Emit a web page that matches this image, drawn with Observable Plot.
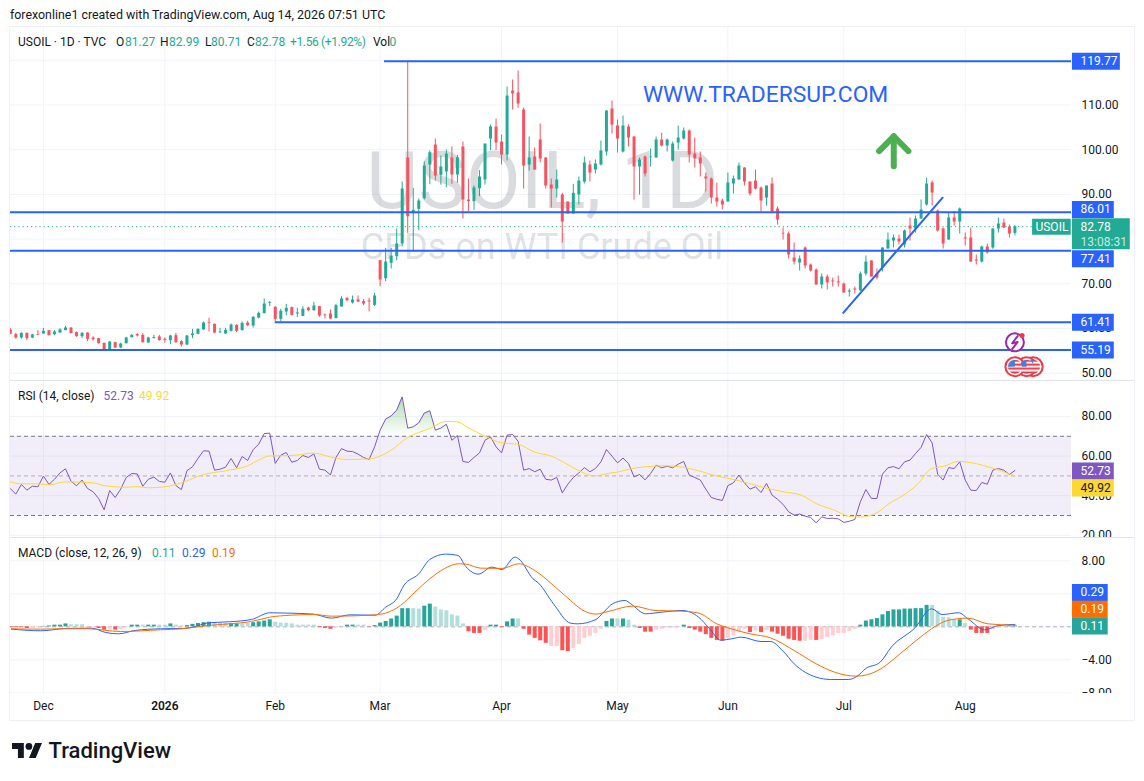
<!DOCTYPE html>
<html><head><meta charset="utf-8">
<script src="https://cdn.jsdelivr.net/npm/d3@7"></script>
<script src="https://cdn.jsdelivr.net/npm/@observablehq/plot@0.6"></script>
<style>
html,body{margin:0;padding:0;background:#fff;width:1144px;height:781px;overflow:hidden}
body{position:relative;font-family:Roboto,sans-serif;color:#131722}
.t{position:absolute;white-space:nowrap;font-size:12px;line-height:14px}
svg{position:absolute;left:0}
</style></head><body>
<script>
const opens=[59.67,58.62,57.88,58.92,57.88,58.62,58.77,59.52,58.62,58.99,
59.52,60.11,59.07,58.17,58.99,57.88,57.73,56.68,55.04,56.83,
55.64,56.61,57.95,58.62,58.47,56.76,57.73,58.10,57.58,57.28,
58.40,57.06,56.31,58.40,58.70,59.67,61.31,60.93,59.07,58.77,
59.37,60.71,59.52,61.23,60.56,62.35,63.32,65.63,64.74,62.05,
63.69,64.66,63.25,62.72,64.59,63.99,64.89,63.02,63.25,62.20,
64.81,66.75,65.71,66.38,66.00,66.15,65.18,75.17,71.14,74.58,
76.07,78.90,98.14,85.69,86.66,89.04,96.57,101.05,94.26,95.01,
98.14,94.34,100.60,88.74,88.37,91.28,93.22,102.39,105.07,101.72,
98.81,113.13,112.68,108.88,96.57,98.36,102.17,98.14,92.10,91.20,
89.86,88.30,85.61,89.86,92.77,96.57,95.45,96.57,99.48,109.10,
105.30,99.48,105.07,102.84,96.13,98.36,98.21,98.14,102.17,100.82,
97.47,101.50,102.39,104.18,99.03,98.14,93.89,93.44,89.19,88.52,
88.30,92.32,93.22,95.90,92.77,92.99,91.43,89.19,92.32,86.73,
81.29,81.14,75.77,74.65,78.01,74.20,73.08,69.73,71.52,70.62,
70.40,69.95,68.16,68.83,68.39,72.19,75.10,72.19,73.53,77.78,
79.57,80.02,78.68,82.93,82.26,84.49,87.62,92.55,86.28,82.26,
79.79,84.72,83.82,80.24,80.24,75.32,74.87,78.23,78.01,82.26,
83.60,82.70,81.27];
const closes=[58.70,57.88,58.92,57.73,58.55,58.47,59.37,58.40,59.22,59.67,
60.11,58.85,58.17,58.92,57.58,57.50,56.61,55.04,56.98,55.64,
56.53,57.88,58.47,58.32,56.83,57.88,57.95,57.28,57.35,58.32,
56.83,56.31,58.32,58.77,59.81,61.23,61.16,58.99,59.22,59.59,
60.78,59.37,61.16,60.64,62.50,63.39,65.48,65.78,62.05,63.84,
64.51,62.95,63.47,64.29,63.99,65.03,62.80,62.87,62.13,65.11,
66.60,66.23,66.38,65.93,65.48,65.93,67.27,70.85,74.87,76.22,
78.90,91.20,85.01,86.43,88.52,96.35,99.33,94.11,96.13,99.03,
94.34,98.21,88.74,88.37,91.43,93.89,101.27,105.07,101.50,98.81,
112.01,112.46,110.22,96.35,98.14,95.45,97.92,91.88,91.20,93.22,
83.82,85.61,90.24,92.99,97.02,94.78,96.80,99.71,108.65,105.52,
102.39,105.30,102.61,96.13,97.69,94.56,98.36,102.17,100.82,102.17,
101.27,102.61,104.18,98.81,97.92,96.80,93.44,89.19,88.30,87.62,
92.55,93.44,96.35,92.77,90.09,91.20,88.52,91.88,86.06,84.27,
81.14,76.44,74.87,75.54,73.98,72.86,69.73,71.52,70.18,70.40,
70.18,67.94,68.39,68.61,72.19,74.87,71.52,71.29,78.01,79.79,
80.24,79.35,81.81,82.26,84.49,86.51,92.32,90.31,81.81,78.90,
84.72,83.82,86.73,80.02,74.87,75.10,78.23,76.89,82.26,83.37,
82.48,81.14,82.78];
const highs=[60.04,58.92,59.00,59.00,58.70,59.52,60.04,59.55,59.52,59.96,
60.49,60.20,59.22,59.07,59.05,58.17,57.80,56.75,57.10,56.95,
56.70,58.03,58.60,58.85,58.85,58.03,58.47,58.47,57.88,58.47,
58.92,57.28,58.47,59.81,59.90,61.46,62.28,61.00,60.04,60.04,
61.01,60.86,61.46,61.60,62.65,63.69,66.60,66.08,64.89,64.29,
65.41,64.81,64.51,64.89,64.74,65.86,64.96,63.25,64.14,65.41,
67.12,66.90,67.27,67.27,66.53,66.75,67.87,75.20,77.93,77.93,
82.26,92.77,119.69,91.35,88.97,97.32,99.71,102.39,98.59,99.93,
100.60,98.74,101.72,93.44,91.88,95.31,101.27,105.52,106.86,103.28,
114.02,115.59,117.60,109.32,102.84,100.38,105.75,98.20,93.44,95.45,
90.24,88.30,92.25,93.89,98.36,97.47,97.69,101.94,108.70,110.89,
106.64,107.54,105.52,102.90,98.14,98.59,100.15,102.84,103.66,102.39,
101.72,105.30,104.85,104.40,102.61,99.48,94.78,93.66,92.55,88.97,
94.78,94.11,97.02,95.95,92.80,95.45,91.65,91.90,93.66,87.18,
82.48,81.58,79.12,76.22,78.23,74.43,73.31,72.19,71.97,71.29,
71.74,70.18,68.83,69.28,72.64,76.22,75.15,73.31,78.05,81.36,
80.91,80.91,82.03,84.72,85.16,88.74,93.66,92.99,86.51,82.48,
85.84,86.06,86.95,81.36,82.48,76.44,78.45,78.90,82.30,84.72,
84.49,83.15,82.99];
const lows=[58.60,57.58,57.58,57.28,57.73,58.40,58.70,58.35,58.40,58.92,
59.50,58.80,58.03,57.73,57.06,57.20,56.50,54.90,54.90,55.50,
55.50,56.50,57.90,58.10,56.75,56.70,57.70,57.20,56.68,56.39,
56.68,55.86,56.16,57.73,58.60,59.60,59.22,58.85,58.85,58.62,
59.22,59.07,59.45,60.41,60.11,62.20,63.30,64.89,61.53,61.46,
62.80,62.80,62.50,62.65,63.77,63.84,62.50,62.13,61.98,62.20,
64.80,65.93,65.48,65.78,65.11,63.69,64.89,69.36,70.47,73.31,
75.17,78.30,81.29,77.11,81.88,88.74,92.17,92.99,92.10,91.50,
92.25,92.47,84.49,86.13,86.43,89.49,92.10,99.78,99.78,96.57,
97.47,108.88,109.25,91.20,95.23,95.40,97.02,91.20,86.95,89.19,
79.12,85.60,85.60,87.62,92.32,92.77,94.56,96.35,98.59,103.51,
99.26,99.26,100.60,88.74,89.86,93.89,96.13,98.10,100.60,99.48,
97.24,99.93,102.17,97.02,95.90,93.89,90.53,87.85,87.18,86.51,
88.30,90.09,93.20,91.88,89.64,90.98,86.06,87.40,86.00,83.15,
79.79,75.54,74.20,72.86,73.31,72.64,69.70,68.83,68.61,69.28,
69.28,67.90,67.04,67.71,68.35,71.74,71.50,70.85,72.64,77.75,
78.01,78.68,78.01,79.57,81.36,84.45,87.40,87.40,81.58,77.78,
79.75,82.93,81.14,78.45,74.85,74.20,74.65,76.66,77.71,81.36,
82.40,80.24,80.71];
const rsi=[43.6,40.8,45.7,42.8,44.8,44.5,49.9,45.7,48.3,51.5,
53.6,47.3,45.0,47.9,43.6,42.0,38.6,32.9,42.6,39.1,
43.3,49.2,51.2,51.0,44.8,48.3,49.4,47.2,46.8,51.5,
45.1,43.1,52.6,54.6,58.8,62.7,62.5,52.9,53.4,54.4,
58.8,54.1,59.8,57.8,63.3,66.0,71.4,71.6,56.3,60.5,
61.8,56.9,57.8,60.3,59.3,61.1,53.4,52.9,50.5,59.3,
63.8,62.5,62.3,61.0,59.3,58.3,64.7,73.1,78.7,80.3,
83.2,89.9,74.1,74.8,76.8,81.7,82.9,73.1,74.1,76.1,
68.0,70.4,57.3,56.8,59.3,61.6,68.0,69.7,64.7,61.6,
70.6,70.9,67.5,52.9,53.7,52.1,53.4,48.3,47.9,49.2,
41.4,45.8,49.2,51.5,54.2,52.1,53.7,57.1,63.3,60.0,
56.6,59.0,56.3,49.5,50.7,48.0,51.2,55.4,54.1,54.9,
54.1,55.9,57.3,50.4,49.2,47.9,43.3,39.1,38.2,37.6,
45.1,46.5,50.4,46.5,43.3,44.5,41.6,46.2,40.3,38.2,
35.6,31.9,30.2,30.7,29.7,29.0,26.3,29.3,28.5,28.6,
28.3,26.5,27.1,28.0,36.9,43.1,38.6,38.6,50.9,54.1,
54.7,53.6,57.1,58.0,61.3,64.4,70.9,66.7,50.9,47.9,
54.2,53.7,57.1,47.9,42.8,42.6,46.7,45.8,52.9,53.7,
52.9,50.7,52.73];
const rsiMaBars=[0,2,5,7,10,15,17,21,23,25,28,31,35,39,43,45,47,51,55,58,61,65,67,69,72,76,79,81,83,86,89,92,95,98,101.5,103.5,105.8,108.8,110,112.4,116,118.7,121.4,124.7,128,131.4,136,140,143.3,146,149.3,152,154,157,159.2,161.9,164.5,166.9,169.2,171.8,173.8,178.5,182];
const rsiMaVals=[47.0,46.0,46.0,45.5,47.0,46.5,45.1,44.3,44.6,44.0,44.5,46.5,50.7,52.6,55.1,58.0,60.1,60.3,61.5,59.6,58.3,58.6,60.0,63.0,69.4,74.0,77.5,77.3,74.3,70.1,66.7,66.0,62.0,60.0,54.9,52.0,50.0,51.5,51.9,53.6,54.8,55.1,54.6,52.6,49.9,48.0,44.5,42.0,40.3,36.0,32.7,29.5,29.2,31.4,36.0,40.4,46.2,53.7,54.9,57.4,56.8,53.4,49.92];
const macdBars=[0.2,5.5,10.1,14.7,17.3,19.6,22.6,27.2,31.2,33.1,35.8,39.7,43.7,47,50.3,54.9,58.2,61.5,66.1,68,70,71.3,74,76,78.9,81.1,82.5,84.8,87.2,89.1,91.4,92.1,94.7,95.7,98.4,101.5,102.8,106.1,107.5,109.1,111.4,112.4,115.1,118.1,121.7,124.7,126.7,128.7,130.7,132.4,136,137.7,140,142,146,148.6,151.9,153.6,154.9,157.6,159.6,163.9,166.9,168.8,171.8,173.5,176.5,179.1,182];
const macdVals=[-.28,-.48,-.2,-.16,-.69,-.85,-.44,-.24,-.2,-.04,.48,.61,.89,1.7,1.66,1.54,1.05,1.45,1.41,2.38,3.39,5.01,6.42,8.16,8.81,8.65,7.31,6.38,7.23,6.95,8.44,8.24,5.82,5.29,2.79,.44,.36,.89,1.78,2.79,3.19,2.79,1.58,1.78,1.98,1.17,-.24,-1.62,-1.45,-1.25,-1.78,-1.78,-2.95,-4.48,-6.1,-6.38,-6.38,-5.9,-5.09,-4.28,-2.46,-.12,2.18,1.49,1.7,.97,-.36,.16,.29];
const signalBars=[0.2,5.5,9.4,14,20,27.2,31.2,35.8,39.7,43.7,47,50.9,54.9,58.2,65.4,68,70.7,73.3,76,78.6,81.2,82.5,85.2,89.1,92.1,95,98.4,101.5,103.5,106.1,108.1,112.8,116.8,121.4,124.7,128,130,134,137.7,142,146,149.3,153.3,157.2,161.2,164.5,166.9,169.8,173.5,177.1,182];
const signalVals=[-.24,-.28,-.24,-.24,-.57,-.36,-.24,.16,.36,.65,1.17,1.41,1.49,1.29,1.41,1.66,2.59,4.2,5.82,7.03,7.64,7.6,7.11,7.07,7.64,6.83,5.01,3.19,2.1,1.54,1.82,2.51,1.98,1.9,1.66,.36,-.12,-.85,-1.33,-2.87,-4.48,-5.49,-5.98,-5.29,-3.27,-1.45,-.24,.77,1.05,.36,.19];
const hist=[-.1,-.1,-.1,-.2,-.15,-.1,.05,.1,.2,.2,
.35,.25,.25,.25,-.05,-.05,-.2,-.4,-.35,-.4,
-.35,-.1,.2,.2,.2,.2,.2,.2,.2,.35,
.2,.1,.15,.3,.4,.5,.55,.5,.45,.4,
.4,.35,.35,.4,.5,.6,.7,.85,.55,.45,
.45,.35,.2,.2,.2,.2,-.1,-.2,-.3,-.15,
.05,.2,.2,.2,.2,-.05,.15,.45,.65,.95,
1.3,2.2,2.2,2.2,2.15,2.5,2.75,2.4,2.05,1.95,
1.45,1.3,.35,-.6,-.8,-.8,-.45,.2,.2,-.1,
.6,.95,.95,-.3,-1.0,-1.4,-1.7,-2.0,-2.4,-2.4,
-2.9,-3.0,-2.67,-2.15,-1.4,-1.15,-.8,-.3,.65,.95,
.95,.95,.8,.2,-.2,-.65,-.65,-.4,-.3,-.15,
-.15,-.1,.2,-.2,-.4,-.65,-.95,-1.4,-1.65,-1.75,
-1.45,-1.1,-.6,-.3,-.7,-.5,-.7,-.45,-.65,-.9,
-1.15,-1.5,-1.65,-1.75,-1.75,-1.65,-1.65,-1.55,-1.3,-1.1,
-.8,-.8,-.55,-.3,.2,.7,.85,1.0,1.45,1.85,
2.05,2.05,2.15,2.15,2.2,2.2,2.6,2.6,1.9,1.15,
1.1,.9,.85,.4,-.4,-.8,-.8,-.8,-.35,-.15,
-.05,.1,.11];
const histLight=[4,5,11,12,13,14,15,18,20,21,24,27,28,30,31,37,38,39,42,43,48,49,50,51,52,53,54,55,59,60,63,64,73,74,77,78,79,80,81,82,86,92,98,99,102,103,104,105,106,107,110,112,113,117,118,119,120,121,130,131,132,133,135,137,144,145,147,148,149,150,151,152,153,167,168,169,170,171,173,178,179,180];
const timeTicks=[6,28,48,67,89,110,130,151,173];
const timeLabels=["Dec","2026","Feb","Mar","Apr","May","Jun","Jul","Aug"];
const priceTicks=[50,60,70,80,90,100,110,120];
const priceLabels=[50,60,70,90,100,110];
const rsiTicks=[20,40,60,80];
const macdTicks=[-8,-4,0,4,8];
const macdLabels=[-8,-4,8];

const BLUE="#2962ff",UP="#22ab94",DOWN="#f7525f",PURPLE="#7e57c2",YEL="#fdd835",ORG="#ff6d00",GRID="#f0f3fa",INK="#131722";
const FONT='Roboto,sans-serif';
const X0=0.036,XP=192.25,AX=192.42;
const bars=d3.range(opens.length);
const lightSet=new Set(histLight);
const xs={domain:[X0,XP],range:[10,1071],axis:null};
const base={width:1144,marginLeft:10,marginRight:73,marginTop:0,marginBottom:0,style:{fontFamily:FONT,fontSize:"12px",color:INK,background:"transparent",overflow:"hidden"}};
const vgrid=Plot.ruleX(timeTicks,{stroke:GRID});
function axis(ticks,fmt){return Plot.axisY(ticks,{anchor:"right",tickSize:0,tickPadding:10,tickFormat:fmt,fontSize:12,fill:INK,color:INK});}
function tag(v,txt,dy,x2,fill,color,w=17){return [
  Plot.ruleY([v],{x1:AX,x2,stroke:fill,strokeWidth:w,dy}),
  Plot.text([v],{x:193.9,y:d=>d,text:()=>txt,fill:color,textAnchor:"start",dy,fontSize:12})];}
function place(svg,top){svg.style.top=top+"px";document.body.appendChild(svg);}
const gradient=()=>{const s=d3.create("svg:defs");s.html(`<linearGradient id="rsiOver" x1="0" y1="0" x2="0" y2="1"><stop offset="0" stop-color="#4caf50" stop-opacity=".45"/><stop offset="1" stop-color="#4caf50" stop-opacity="0"/></linearGradient>`);return s.node();};
const flagDefs=()=>{const s=d3.create("svg:defs");s.html(`<pattern id="usflag" width="1" height="1" patternContentUnits="objectBoundingBox"><rect width="1" height="1" fill="#fff"/><rect y="0" width="1" height=".14" fill="#f23645"/><rect y=".28" width="1" height=".14" fill="#f23645"/><rect y=".56" width="1" height=".14" fill="#f23645"/><rect y=".84" width="1" height=".16" fill="#f23645"/><rect width=".5" height=".5" fill="#4a7fd6"/></pattern>`);return s.node();};

/* price pane */
const arrowShaft=[[160.05,96.3],[160.05,103.0]],arrowHead=[[157.4,99.7],[160.05,103.0],[162.7,99.7]];
const bolt=[[182.5,58.3],[181.5,56.7],[182.5,57.0],[181.5,55.4]];
const flags=[185.3,184.1,182];
const price=Plot.plot({...base,height:353,x:xs,y:{domain:[48.48,127.45],range:[352.5,-0.5],axis:null},marks:[
  flagDefs,
  Plot.ruleY(priceTicks,{stroke:GRID}),vgrid,
  Plot.text(["USOIL, 1D"],{x:96.4,y:92.6,text:d=>d,fontSize:80,fill:"#787b86",fillOpacity:.27,textAnchor:"middle"}),
  Plot.text(["CFDs on WTI Crude Oil"],{x:96.3,y:78.1,text:d=>d,fontSize:36,fill:"#787b86",fillOpacity:.24,textAnchor:"middle"}),
  Plot.ruleY([82.78],{x1:X0,x2:185.2,stroke:UP,strokeDasharray:"1.2,3"}),
  Plot.ruleX(bars,{x:i=>i,y1:i=>lows[i],y2:i=>highs[i],stroke:i=>closes[i]>=opens[i]?UP:DOWN,clip:true}),
  Plot.ruleX(bars,{x:i=>i,y1:i=>opens[i],y2:i=>closes[i],stroke:i=>closes[i]>=opens[i]?UP:DOWN,strokeWidth:3,clip:true}),
  Plot.ruleY([86.01,77.41,55.19],{x1:X0,x2:XP,stroke:BLUE,strokeWidth:2}),
  Plot.ruleY([119.77],{x1:67.8,x2:XP,stroke:BLUE,strokeWidth:2}),
  Plot.ruleY([61.41],{x1:48,x2:XP,stroke:BLUE,strokeWidth:2}),
  Plot.line([[150.9,63.5],[168.9,89.26]],{stroke:BLUE,strokeWidth:2}),
  Plot.line(arrowShaft,{stroke:"#4caf50",strokeWidth:6,strokeLinecap:"round"}),
  Plot.line(arrowHead,{stroke:"#4caf50",strokeWidth:6,strokeLinecap:"round",strokeLinejoin:"round"}),
  Plot.text(["WWW.TRADERSUP.COM"],{x:114.6,y:112.2,text:d=>d,fontSize:22.8,fill:BLUE,textAnchor:"start"}),
  axis(priceLabels,d=>d.toFixed(2)),
  Plot.dot([[182,56.9]],{r:9,fill:"#fff",stroke:"#9c27b0",strokeWidth:2}),
  Plot.line(bolt,{stroke:"#9c27b0",strokeWidth:2}),
  Plot.dot([[183.3,58.45]],{r:2.5,fill:"#f23645"}),
  Plot.dot(flags,{x:d=>d,y:()=>51.46,r:9.5,fill:"#fff",stroke:"#f23645",strokeWidth:2}),
  Plot.dot(flags,{x:d=>d,y:()=>51.46,r:7,fill:"url(#usflag)"}),
  ...tag(119.77,"119.77",0,201.1,BLUE,"#fff"),
  ...tag(86.01,"86.01",-2.7,200,BLUE,"#fff"),
  ...tag(77.41,"77.41",8,200,BLUE,"#fff"),
  ...tag(61.41,"61.41",0,200,BLUE,"#fff"),
  ...tag(55.19,"55.19",0,200,BLUE,"#fff"),
  Plot.ruleY([82.78],{x1:AX,x2:202.9,stroke:UP,strokeWidth:31,dy:7}),
  Plot.text([82.78],{x:193.9,y:d=>d,text:d=>d.toFixed(2),fill:"#fff",textAnchor:"start",fontSize:12}),
  Plot.text([82.78],{x:193.9,y:d=>d,text:()=>"13:08:31",fill:"#fff",fillOpacity:.75,textAnchor:"start",dy:15,fontSize:12}),
  Plot.ruleY([82.78],{x1:185.2,x2:192.2,stroke:UP,strokeWidth:16}),
  Plot.text([82.78],{x:188.7,y:d=>d,text:()=>"USOIL",fill:"#fff",fontSize:12})
]});
place(price,27);

/* RSI pane */
const rsiOver=bars.filter(i=>i>=66&&i<=82);
const rsiPane=Plot.plot({...base,height:156,x:xs,y:{domain:[18.89,97.68],range:[156,0],axis:null},marks:[
  gradient,
  Plot.ruleY(rsiTicks,{stroke:GRID}),vgrid,
  Plot.rectY([0],{x1:X0,x2:XP,y1:30,y2:70,fill:PURPLE,fillOpacity:.1}),
  Plot.areaY(rsiOver,{x:i=>i,y1:()=>70,y2:i=>Math.max(rsi[i],70),fill:"url(#rsiOver)"}),
  Plot.ruleY([70,30],{x1:X0,x2:XP,stroke:"#787b86",strokeDasharray:"4,3"}),
  Plot.ruleY([50],{x1:X0,x2:XP,stroke:"#787b86",strokeOpacity:.55,strokeDasharray:"4,3"}),
  Plot.line(bars,{x:i=>i,y:i=>rsi[i],stroke:PURPLE,strokeWidth:1,clip:true}),
  Plot.line(rsiMaBars,{x:d=>d,y:(d,i)=>rsiMaVals[i],stroke:YEL,strokeWidth:1,curve:"monotone-x"}),
  axis(rsiTicks,d=>d.toFixed(2)),
  ...tag(52.73,"52.73",0.5,200,PURPLE,"#fff"),
  ...tag(49.92,"49.92",12,200,YEL,INK)
]});
place(rsiPane,381);

/* MACD pane */
const macdPane=Plot.plot({...base,height:155,x:xs,y:{domain:[-8.08,10.70],range:[155,0],axis:null},marks:[
  Plot.ruleY(macdTicks,{stroke:GRID}),vgrid,
  Plot.ruleY([0],{x1:X0,x2:XP,stroke:"#787b86",strokeOpacity:.55,strokeDasharray:"4,3"}),
  Plot.ruleX(bars,{x:i=>i,y1:0,y2:i=>hist[i],strokeWidth:4,clip:true,
    stroke:i=>hist[i]>=0?(lightSet.has(i)?"#b2dfdb":"#26a69a"):(lightSet.has(i)?"#ffcdd2":"#ff5252")}),
  Plot.line(macdBars,{x:d=>d,y:(d,i)=>macdVals[i],stroke:BLUE,strokeWidth:1,curve:"monotone-x"}),
  Plot.line(signalBars,{x:d=>d,y:(d,i)=>signalVals[i],stroke:ORG,strokeWidth:1,curve:"monotone-x"}),
  axis(macdLabels,d=>d<0?"\u2212"+Math.abs(d).toFixed(2):d.toFixed(2)),
  ...tag(0.29,"0.29",-32,198.9,BLUE,"#fff"),
  ...tag(0.19,"0.19",-16,198.9,ORG,"#fff"),
  ...tag(0.11,"0.11",0,198.9,"#26a69a","#fff")
]});
place(macdPane,538);

/* time axis */
const labelOf=d=>timeLabels[timeTicks.indexOf(d)];
const timePane=Plot.plot({...base,height:27,x:xs,y:{domain:[0,1],axis:null},marks:[
  Plot.axisX(timeTicks.filter(d=>labelOf(d)!=="2026"),{anchor:"bottom",tickSize:0,tickPadding:-19,tickFormat:labelOf,fontSize:12,fill:INK,color:INK}),
  Plot.axisX(timeTicks.filter(d=>labelOf(d)==="2026"),{anchor:"bottom",tickSize:0,tickPadding:-19,tickFormat:labelOf,fontSize:12,fontWeight:600,fill:INK,color:INK})
]});
place(timePane,693);

/* html text and frame */
function add(html,css,cls="t"){const e=document.createElement("div");e.className=cls;e.style.cssText=css;e.innerHTML=html;document.body.appendChild(e);return e;}
add("forexonline1 created with TradingView.com, Aug 14, 2026 07:51 UTC","left:10px;top:8px;font-size:12.4px");
add("","left:9px;top:26px;width:1124px;height:693px;border:1px solid #eef0f5;box-sizing:content-box;position:absolute;pointer-events:none","");
add("","left:10px;top:380px;width:1124px;height:1px;background:#e0e3eb;position:absolute","");
add("","left:10px;top:537px;width:1124px;height:1px;background:#e0e3eb;position:absolute","");
const T="#22ab94";
[[18,"USOIL · 1D · TVC",INK],[116,"O",INK],[125,"81.27",T],[160,"H",INK],[169,"82.99",T],[205,"L",INK],[211,"80.71",T],[247,"C",INK],[255,"82.78",T],[290,"+1.56 (+1.92%)",T,"letter-spacing:-.35px"],[373,"Vol",INK],[389.5,"0",T]].forEach(([l,s,c,x=""])=>add(s,`left:${l}px;top:35px;color:${c};${x}`));
[[18,"RSI (14, close)",INK],[103.5,"52.73",PURPLE],[139,"49.92",YEL]].forEach(([l,s,c])=>add(s,`left:${l}px;top:389px;color:${c}`));
[[18,"MACD (close, 12, 26, 9)",INK],[152,"0.11","#26a69a"],[182,"0.29",BLUE],[212,"0.19",ORG]].forEach(([l,s,c])=>add(s,`left:${l}px;top:546px;color:${c}`));
add(`<svg viewBox="0 4 35.5 18" width="30" height="15.2" style="position:static;display:block"><path d="M14 22H7V11H0V4h14v18zM28 22h-8l7.5-18h8L28 22z" fill="${INK}"/><circle cx="20" cy="8" r="4" fill="${INK}"/></svg>`,"left:12px;top:743px;position:absolute","");
add("TradingView","left:48.5px;top:738px;font-size:22px;line-height:26px;font-weight:500;color:#131722");
</script>
</body></html>
